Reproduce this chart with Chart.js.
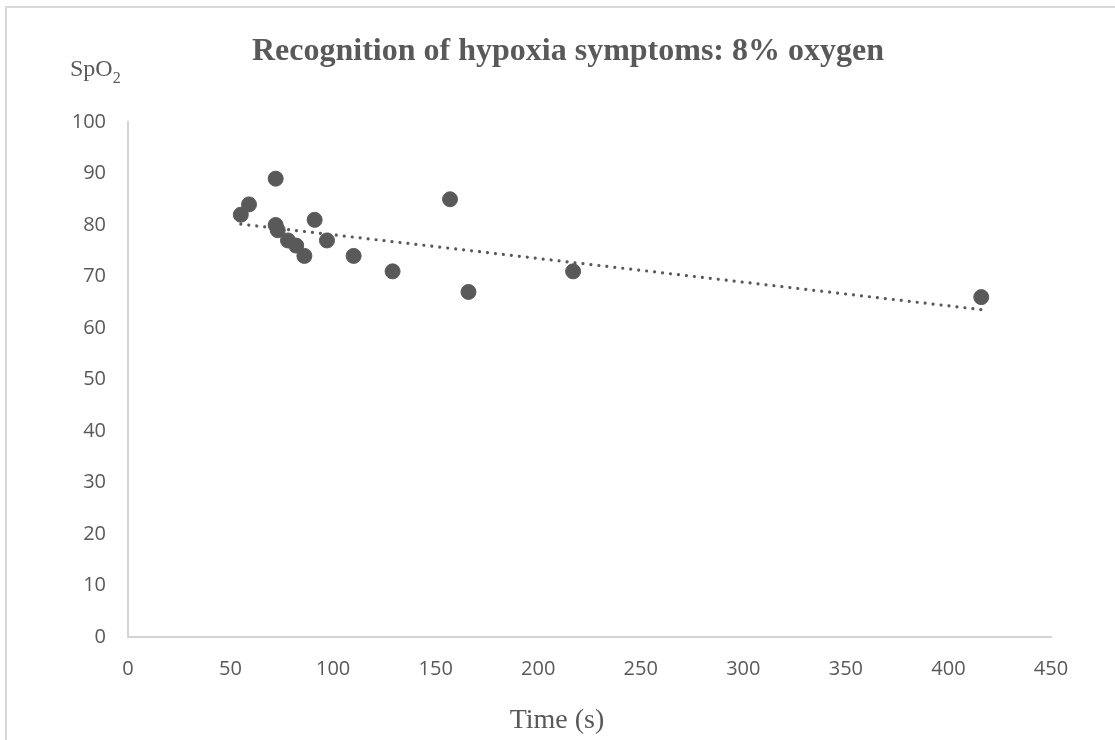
<!DOCTYPE html>
<html>
<head>
<meta charset="utf-8">
<script src="https://cdn.jsdelivr.net/npm/chart.js@4"></script>
<style>
  body { margin: 0; background: #fff; }
  #frame { position: absolute; left: 5px; top: 6px; width: 1200px; height: 800px; border: 2px solid #d9d9d9; }
  #wrap { position: absolute; left: 0; top: 0; width: 1115px; height: 740px; }
</style>
</head>
<body>
<div id="frame"></div>
<div id="wrap"><canvas id="myChart"></canvas></div>
<script>
// time to recognise symptoms (s) and SpO2 (%) at that moment
const timeSec = [55, 59, 72, 72, 73, 78, 82, 86, 91, 97, 110, 129, 157, 166, 217, 416];
const spo2 = [82, 84, 89, 80, 79, 77, 76, 74, 81, 77, 74, 71, 85, 67, 71, 66];
const xTicks = [0, 50, 100, 150, 200, 250, 300, 350, 400, 450];
const yTicks = [0, 10, 20, 30, 40, 50, 60, 70, 80, 90, 100];

const grey = '#595959';

// least squares line, like the excel linear trendline
function trend(xs, ys) {
  const n = xs.length;
  const mx = xs.reduce((a, b) => a + b, 0) / n;
  const my = ys.reduce((a, b) => a + b, 0) / n;
  let sxy = 0, sxx = 0;
  for (let i = 0; i < n; i++) {
    sxy += (xs[i] - mx) * (ys[i] - my);
    sxx += (xs[i] - mx) * (xs[i] - mx);
  }
  const slope = sxy / sxx;
  const b = my - slope * mx;
  const x0 = Math.min(...xs), x1 = Math.max(...xs);
  return [{x: x0, y: b + slope * x0}, {x: x1, y: b + slope * x1}];
}

const textPlugin = {
  id: 'texts',
  afterDraw(chart) {
    const ctx = chart.ctx;
    ctx.save();
    ctx.fillStyle = grey;
    ctx.textBaseline = 'alphabetic';
    ctx.textAlign = 'center';
    ctx.font = 'bold 32px "Liberation Serif"';
    ctx.fillText('Recognition of hypoxia symptoms: 8% oxygen', 568, 60);
    ctx.font = '28px "Liberation Serif"';
    ctx.fillText('Time (s)', 557, 728);
    ctx.textAlign = 'left';
    ctx.font = '24px "Liberation Serif"';
    ctx.fillText('SpO', 70, 76);
    const w = ctx.measureText('SpO').width;
    ctx.font = '16px "Liberation Serif"';
    ctx.fillText('2', 70 + w, 83);
    ctx.restore();
  }
};

function renderScatterChart(element) {
  const ctx = document.getElementById(element);
  const tickFont = {family: '"Open Sans"', size: 20};

  const myChart = new Chart(ctx, {
    type: 'scatter',
    data: {
      datasets: [{
        data: timeSec.map((t, i) => ({x: t, y: spo2[i]})),
        backgroundColor: grey,
        borderColor: grey,
        pointRadius: 7.5,
        order: 2
      }, {
        type: 'line',
        data: trend(timeSec, spo2),
        showLine: true,
        borderColor: grey,
        borderWidth: 3.2,
        borderDash: [0.01, 8],
        borderCapStyle: 'round',
        pointRadius: 0,
        fill: false,
        order: 1
      }]
    },
    options: {
      responsive: false,
      animation: false,
      layout: {padding: {left: 0, top: 122, right: 64, bottom: 0}},
      plugins: {legend: {display: false}, title: {display: false}, tooltip: {enabled: false}},
      scales: {
        x: {
          type: 'linear', min: 0, max: 450,
          afterBuildTicks: s => { s.ticks = xTicks.map(v => ({value: v})); },
          afterFit: s => { s.height = 103; },
          grid: {display: false, drawTicks: false},
          border: {display: true, color: '#d4d4d4', width: 2},
          ticks: {color: grey, font: tickFont, padding: 20, maxRotation: 0}
        },
        y: {
          type: 'linear', min: 0, max: 100,
          afterBuildTicks: s => { s.ticks = yTicks.map(v => ({value: v})); },
          afterFit: s => { s.width = 128; },
          grid: {display: false, drawTicks: false},
          border: {display: true, color: '#d4d4d4', width: 2},
          ticks: {color: grey, font: tickFont, padding: 22}
        }
      }
    },
    plugins: [textPlugin]
  });
  return myChart;
}

document.getElementById('myChart').width = 1115;
document.getElementById('myChart').height = 740;
renderScatterChart('myChart');
</script>
</body>
</html>
